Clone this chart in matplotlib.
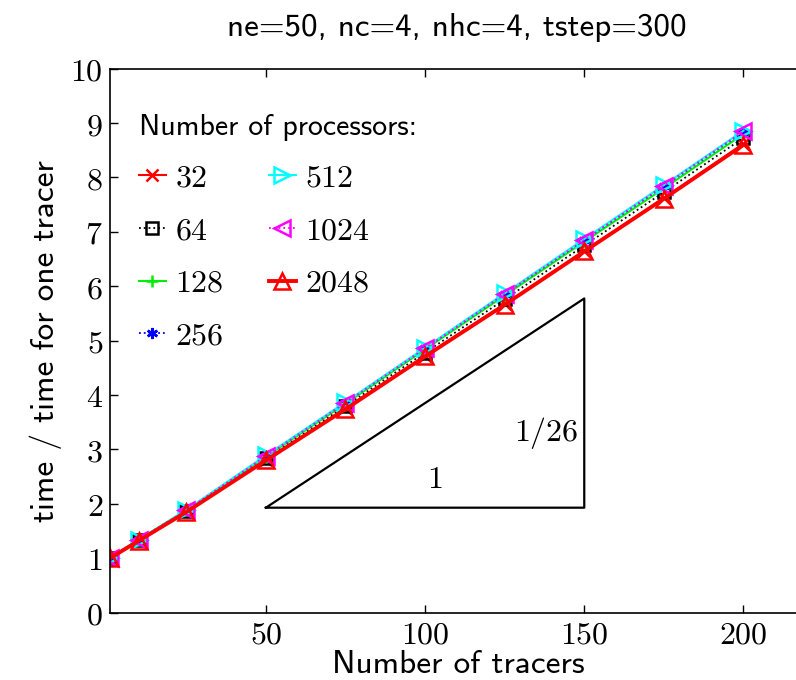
import numpy as np
import matplotlib
matplotlib.use("Agg")
import matplotlib.pyplot as plt

plt.rcParams['mathtext.fontset'] = 'cm'
plt.rcParams['axes.unicode_minus'] = False

# number of tracers
tracers = [1, 10, 25, 50, 75, 100, 125, 150, 175, 200]

# time / time for one tracer, per processor count
t_32 = [1.00, 1.33, 1.86, 2.80, 3.76, 4.72, 5.67, 6.65, 7.62, 8.62]
t_64 = [1.00, 1.33, 1.87, 2.84, 3.80, 4.78, 5.76, 6.75, 7.73, 8.73]
t_128 = [1.00, 1.34, 1.88, 2.87, 3.84, 4.84, 5.83, 6.82, 7.80, 8.80]
t_256 = [1.00, 1.34, 1.88, 2.88, 3.86, 4.86, 5.86, 6.85, 7.84, 8.84]
t_512 = [1.00, 1.34, 1.89, 2.89, 3.87, 4.87, 5.87, 6.87, 7.86, 8.86]
t_1024 = [1.00, 1.34, 1.88, 2.88, 3.86, 4.86, 5.86, 6.85, 7.85, 8.85]
t_2048 = [1.00, 1.32, 1.85, 2.80, 3.74, 4.71, 5.66, 6.64, 7.61, 8.60]

procs = ['32', '64', '128', '256', '512', '1024', '2048']

# slope triangle (1/26)
tri_x = [50, 150, 150, 50]
tri_y0 = 1.93
tri_y = [tri_y0, tri_y0, tri_y0 + 100 / 26, tri_y0]

sans = 'cmss10'

fig = plt.figure(figsize=(7.96, 6.8), dpi=100)
ax = fig.add_axes([0.138, 0.099, 0.9, 0.8])

styles = [
    (t_32, 'red', '-', 'x', 1.5),
    (t_64, 'black', ':', 's', 1.3),
    (t_128, '#00ee00', '-', '+', 1.5),
    (t_256, 'blue', ':', (6, 2, 0), 1.3),
    (t_512, 'cyan', '-', '>', 1.5),
    (t_1024, 'magenta', ':', '<', 1.3),
    (t_2048, 'red', '-', '^', 2.8),
]
for (vals, col, ls, mk, lw), lab in zip(styles, procs):
    big = isinstance(mk, str) and mk in '^<>'
    ax.plot(tracers, vals, color=col, linestyle=ls, marker=mk, lw=lw,
            markersize=11 if big else 8, markerfacecolor='none',
            markeredgewidth=1.8,
            label='$' + lab + '$')

ax.plot(tri_x, tri_y, color='black', lw=1.6)
ax.text(103, 2.45, '$1$', fontsize=23, ha='center', va='center')
ax.text(138, 3.3, '$1/26$', fontsize=23, ha='center', va='center')

ax.set_xlim(1, 226)
ax.set_ylim(0, 10)
ax.set_xticks([50, 100, 150, 200])
ax.set_yticks(range(11))
ax.set_xticklabels(['$%d$' % v for v in [50, 100, 150, 200]], fontsize=23)
ax.set_yticklabels(['$%d$' % v for v in range(11)], fontsize=23)
ax.tick_params(direction='in', top=True, right=False, length=6, width=1, pad=5)
ax.spines['right'].set_visible(False)
for s in ax.spines.values():
    s.set_linewidth(1.2)

ax.set_xlabel('Number of tracers', fontsize=24, family=sans)
ax.xaxis.set_label_coords(0.487, -0.068)
ax.set_ylabel('time / time for one tracer', fontsize=24, family=sans, labelpad=6)
fig.text(457 / 796, 1 - 28 / 680, 'ne=50, nc=4, nhc=4, tstep=300',
         fontsize=23.8, family=sans, ha='center', va='center')

leg = ax.legend(ncol=2, loc='upper left', bbox_to_anchor=(0.0, 0.97),
                frameon=False, fontsize=23, handlelength=0.85, handletextpad=0.3,
                columnspacing=1.4, labelspacing=0.68,
                title='Number of processors:',
                title_fontproperties={'family': sans, 'size': 21.5})
leg._legend_box.align = 'left'

fig.savefig('out.png', dpi=100)
